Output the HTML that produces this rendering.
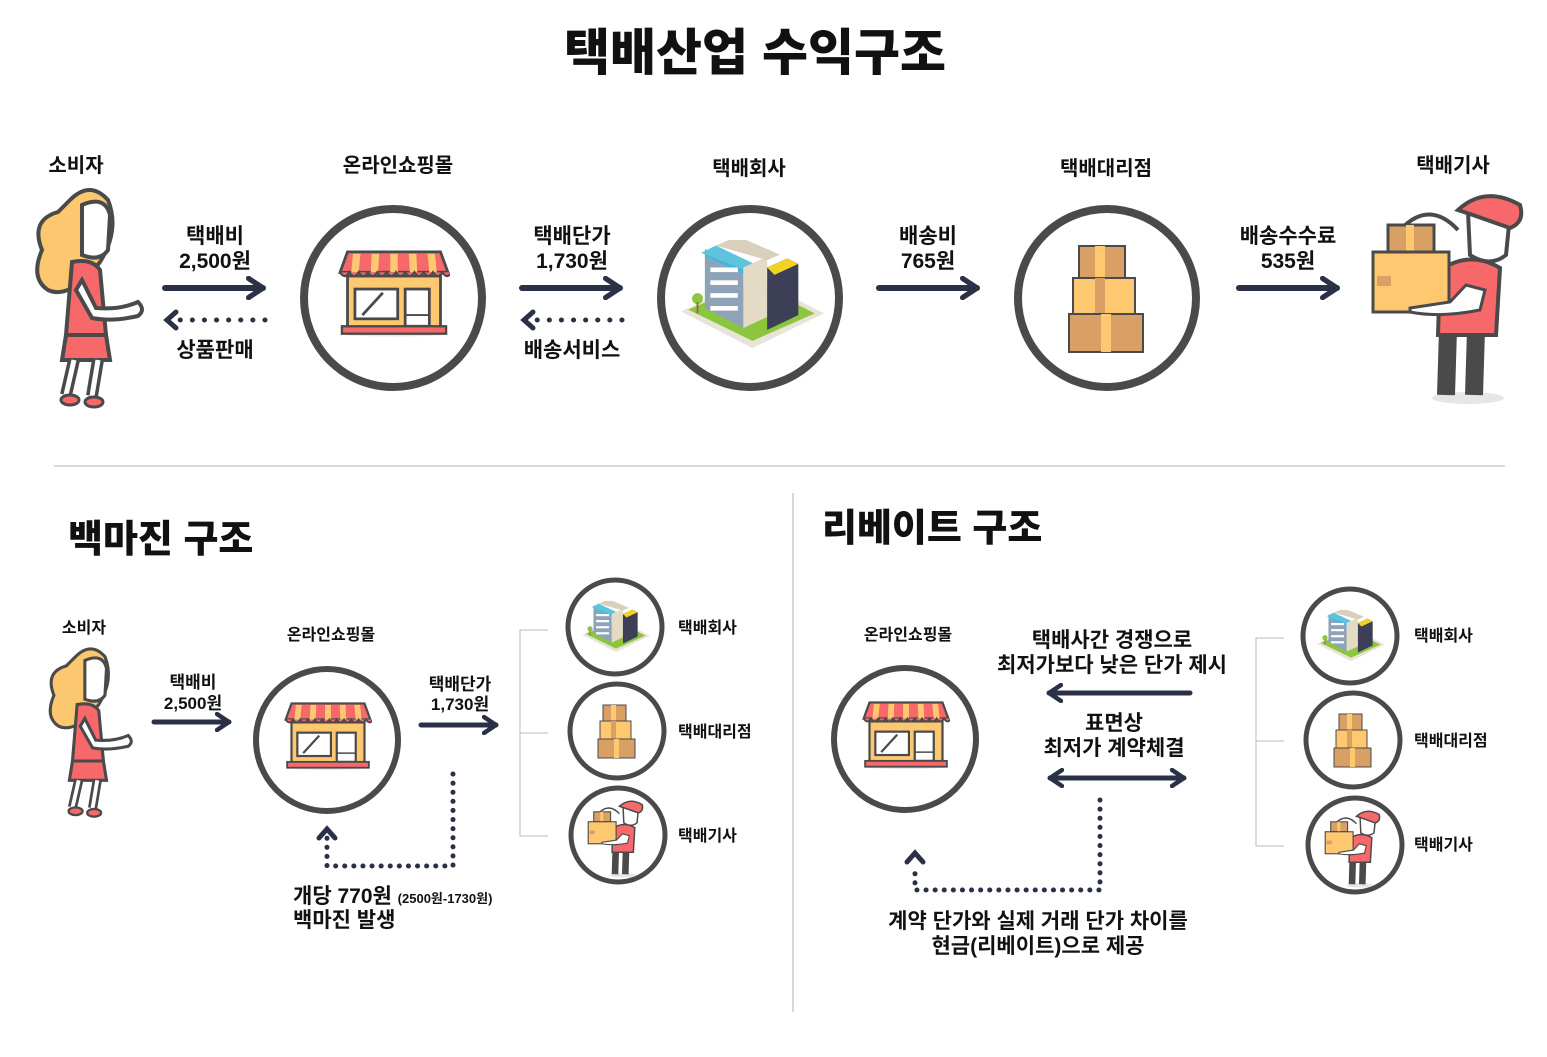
<!DOCTYPE html>
<html><head><meta charset="utf-8"><style>
body{margin:0;background:#fff}
svg{display:block}
text{font-family:"Liberation Sans","Noto Sans CJK KR","NanumGothic",sans-serif;fill:#111;font-weight:bold;text-anchor:middle}
</style></head><body>
<svg width="1547" height="1057" viewBox="0 0 1547 1057" xmlns="http://www.w3.org/2000/svg">
<defs>
<marker id="ah" viewBox="0 0 10 10" refX="7" refY="5" markerWidth="4" markerHeight="4" orient="auto-start-reverse"><path d="M1 1 L7 5 L1 9" fill="none" stroke="#2a3147" stroke-width="2.2" stroke-linecap="round" stroke-linejoin="round"/></marker>
<symbol id="store" viewBox="0 0 120 100">
<ellipse cx="60" cy="90" rx="58" ry="3" fill="#e6e6e6"/>
<rect x="10" y="28" width="100" height="56" fill="#fdc870" stroke="#4a4a4a" stroke-width="3"/>
<rect x="18" y="42" width="46" height="32" fill="#fff" stroke="#4a4a4a" stroke-width="3"/>
<line x1="26" y1="70" x2="48" y2="46" stroke="#4a4a4a" stroke-width="3"/>
<rect x="72" y="42" width="26" height="40" fill="#fff" stroke="#4a4a4a" stroke-width="3"/>
<line x1="72" y1="70" x2="98" y2="70" stroke="#4a4a4a" stroke-width="2"/>
<path d="M2 24 L10 2 H110 L118 24 Z" fill="#f7686a" stroke="#4a4a4a" stroke-width="3"/>
<g fill="#fdc870"><path d="M16 4 H24 L22 24 H14Z"/><path d="M36 4 H44 L43 24 H35Z"/><path d="M56 4 H64 V24 H56Z"/><path d="M76 4 H84 L85 24 H77Z"/><path d="M96 4 H104 L106 24 H98Z"/></g>
<path d="M2 24 q5 8 10 0 q5 8 10 0 q5 8 10 0 q5 8 10 0 q5 8 10 0 q5 8 10 0 q5 8 10 0 q5 8 10 0 q5 8 10 0 q5 8 10 0 q5 8 10 0 q5 8 10 0" fill="#f7686a" stroke="#4a4a4a" stroke-width="2.5"/>
<rect x="4" y="82" width="112" height="8" fill="#f7686a" stroke="#4a4a4a" stroke-width="2.5"/>
</symbol>
<symbol id="bld" viewBox="0 0 160 120">
<path d="M2 78 L80 118 L158 80 L80 40 Z" fill="#e9e4d8"/>
<path d="M10 76 L80 110 L148 80 L80 46 Z" fill="#8cc63f"/>
<path d="M28 18 L70 38 L70 96 L28 74 Z" fill="#8fa3b8"/>
<path d="M28 10 L70 30 L70 38 L28 18Z" fill="#4bb4d6"/>
<path d="M24 14 L40 6 L82 26 L70 32Z" fill="#5ec3df"/>
<path d="M70 30 L96 18 L96 84 L70 96Z" fill="#e3dbc6"/>
<path d="M40 6 L64 -4 L110 16 L96 22Z" fill="#d8d0bb"/>
<path d="M96 30 L118 20 L130 26 L130 82 L96 98Z" fill="#3c3f55"/>
<path d="M96 30 L118 20 L130 26 L104 38Z" fill="#f2d224"/>
<g fill="#fff"><rect x="34" y="30" width="30" height="5"/><rect x="34" y="44" width="30" height="5"/><rect x="34" y="58" width="30" height="5"/><rect x="34" y="72" width="30" height="5"/></g>
<circle cx="20" cy="64" r="6" fill="#8cc63f"/><line x1="20" y1="68" x2="20" y2="80" stroke="#8a6d3b" stroke-width="2"/>
</symbol>
<symbol id="boxes" viewBox="0 0 80 110">
<rect x="12" y="2" width="46" height="32" fill="#d9a066" stroke="#4a4a4a" stroke-width="2"/><rect x="28" y="2" width="10" height="32" fill="#fdc870"/>
<rect x="6" y="34" width="62" height="36" fill="#fdc870" stroke="#4a4a4a" stroke-width="2"/><rect x="28" y="34" width="10" height="36" fill="#d9a066"/>
<rect x="2" y="70" width="74" height="38" fill="#d9a066" stroke="#4a4a4a" stroke-width="2"/><rect x="34" y="70" width="10" height="38" fill="#fdc870"/>
</symbol>
<symbol id="woman" viewBox="28 185 120 225">
<path d="M70 200 Q90 180 108 200 Q120 230 100 262 Q70 300 48 290 Q30 278 42 250 Q30 220 58 212Z" fill="#fcc86f" stroke="#4a4a4a" stroke-width="4"/>
<path d="M82 205 Q105 195 110 215 L108 250 Q100 262 82 255 Z" fill="#fff" stroke="#4a4a4a" stroke-width="4"/>
<path d="M72 262 Q92 258 100 270 L106 335 H66 Z" fill="#f7686a" stroke="#4a4a4a" stroke-width="4"/>
<path d="M66 335 H106 L110 360 H62Z" fill="#f7686a" stroke="#4a4a4a" stroke-width="4"/>
<path d="M82 280 L96 308 Q120 310 138 302 Q146 310 138 316 Q112 322 92 318 L76 290Z" fill="#fff" stroke="#4a4a4a" stroke-width="4"/>
<path d="M74 360 L66 395 M98 360 L92 396" stroke="#4a4a4a" stroke-width="12"/>
<path d="M74 360 L66 395 M98 360 L92 396" stroke="#fff" stroke-width="5"/>
<ellipse cx="70" cy="400" rx="9" ry="5" fill="#f7686a" stroke="#4a4a4a" stroke-width="3"/><ellipse cx="94" cy="402" rx="9" ry="5" fill="#f7686a" stroke="#4a4a4a" stroke-width="3"/>
</symbol>
<symbol id="courier" viewBox="1365 190 162 218">
<ellipse cx="1468" cy="398" rx="36" ry="6" fill="#e6e6e6"/>
<path d="M1448 330 L1446 395 M1476 330 L1474 395" stroke="#4a4a4a" stroke-width="18"/>
<path d="M1440 270 Q1470 250 1500 268 L1496 335 H1438Z" fill="#f7686a" stroke="#4a4a4a" stroke-width="4"/>
<path d="M1468 212 Q1492 200 1510 215 L1506 255 Q1490 268 1470 255Z" fill="#fff" stroke="#4a4a4a" stroke-width="4"/>
<path d="M1458 210 Q1485 185 1520 205 Q1525 222 1510 228 L1470 214Z" fill="#f7686a" stroke="#4a4a4a" stroke-width="4"/>
<path d="M1402 228 Q1430 200 1458 230" fill="none" stroke="#4a4a4a" stroke-width="4"/>
<rect x="1388" y="225" width="46" height="27" fill="#d9a066" stroke="#4a4a4a" stroke-width="3"/><rect x="1406" y="225" width="8" height="27" fill="#fdc870"/>
<rect x="1373" y="252" width="76" height="60" fill="#fdc870" stroke="#4a4a4a" stroke-width="3"/>
<rect x="1377" y="276" width="14" height="10" fill="#d9a066"/>
<path d="M1410 312 Q1440 318 1480 310 L1485 290 L1466 285 L1450 302 L1410 308Z" fill="#fff" stroke="#4a4a4a" stroke-width="3"/>
</symbol>
</defs>

<text x="755" y="70" font-size="50" style="font-weight:900">택배산업 수익구조</text>

<g font-size="20">
<text x="76" y="172">소비자</text><text x="398" y="172">온라인쇼핑몰</text><text x="749" y="175">택배회사</text><text x="1106" y="175">택배대리점</text><text x="1453" y="172">택배기사</text>
</g>
<use href="#woman" x="28" y="185" width="120" height="225"/>
<circle cx="393" cy="298" r="89" fill="none" stroke="#4a4a4a" stroke-width="8"/>
<use href="#store" x="338" y="250" width="112" height="93"/>
<circle cx="750" cy="298" r="89" fill="none" stroke="#4a4a4a" stroke-width="8"/>
<use href="#bld" x="675" y="240" width="155" height="110"/>
<circle cx="1107" cy="298" r="89" fill="none" stroke="#4a4a4a" stroke-width="8"/>
<use href="#boxes" x="1067" y="244" width="80" height="110"/>
<use href="#courier" x="1365" y="190" width="162" height="218"/>

<g stroke="#2a3147" stroke-width="6" stroke-linecap="round" fill="none">
<line x1="165" y1="288" x2="263" y2="288" marker-end="url(#ah)"/>
<line x1="522" y1="288" x2="620" y2="288" marker-end="url(#ah)"/>
<line x1="879" y1="288" x2="977" y2="288" marker-end="url(#ah)"/>
<line x1="1239" y1="288" x2="1337" y2="288" marker-end="url(#ah)"/>
<line x1="265" y1="320" x2="172" y2="320" stroke-dasharray="0.1 12" stroke-width="5"/>
<line x1="622" y1="320" x2="529" y2="320" stroke-dasharray="0.1 12" stroke-width="5"/>
<path d="M176 312 L167 320 L176 328" stroke-width="5"/><path d="M533 312 L524 320 L533 328" stroke-width="5"/>
</g>
<g font-size="21">
<text x="215" y="243">택배비</text><text x="215" y="268">2,500원</text><text x="215" y="357">상품판매</text>
<text x="572" y="243">택배단가</text><text x="572" y="268">1,730원</text><text x="572" y="357">배송서비스</text>
<text x="928" y="243">배송비</text><text x="928" y="268">765원</text>
<text x="1288" y="243">배송수수료</text><text x="1288" y="268">535원</text>
</g>

<line x1="54" y1="466" x2="1505" y2="466" stroke="#ccc" stroke-width="1.5"/>
<line x1="793" y1="493" x2="793" y2="1012" stroke="#ccc" stroke-width="1.5"/>

<text x="68" y="552" font-size="38" style="text-anchor:start;font-weight:900">백마진 구조</text>
<text x="822" y="541" font-size="38" style="text-anchor:start;font-weight:900">리베이트 구조</text>

<!-- left bottom -->
<g font-size="16"><text x="84" y="633">소비자</text><text x="331" y="640">온라인쇼핑몰</text>
<text x="678" y="633" style="text-anchor:start">택배회사</text><text x="678" y="737" style="text-anchor:start">택배대리점</text><text x="678" y="841" style="text-anchor:start">택배기사</text>
<text x="908" y="640">온라인쇼핑몰</text>
<text x="1414" y="641" style="text-anchor:start">택배회사</text><text x="1414" y="746" style="text-anchor:start">택배대리점</text><text x="1414" y="850" style="text-anchor:start">택배기사</text>
</g>
<g font-size="17"><text x="193" y="688">택배비</text><text x="193" y="709">2,500원</text><text x="460" y="690">택배단가</text><text x="460" y="710">1,730원</text></g>
<use href="#woman" x="40" y="645" width="99" height="174"/>
<circle cx="327" cy="740" r="71" fill="none" stroke="#4a4a4a" stroke-width="6"/>
<use href="#store" x="284" y="702" width="88" height="73"/>
<g stroke="#2a3147" stroke-width="5" stroke-linecap="round" fill="none">
<line x1="154" y1="722" x2="229" y2="722" marker-end="url(#ah)"/>
<line x1="421" y1="725" x2="496" y2="725" marker-end="url(#ah)"/>
<path d="M453 774 V866 H327 V836" stroke-dasharray="0.1 9"/>
<path d="M319 838 L327 829 L335 838"/>
<line x1="1190" y1="693" x2="1049" y2="693" marker-end="url(#ah)"/>
<line x1="1050" y1="778" x2="1184" y2="778" marker-start="url(#ah)" marker-end="url(#ah)"/>
<path d="M1100 800 V890 H915 V866" stroke-dasharray="0.1 9"/>
<path d="M907 862 L915 853 L923 862"/>
</g>
<g stroke="#bbb" stroke-width="1" fill="none">
<path d="M548 630 H520 V836 H548 M520 733 H548"/>
<path d="M1284 638 H1256 V846 H1284 M1256 741 H1284"/>
</g>
<g fill="#fff" stroke="#4a4a4a" stroke-width="5">
<circle cx="615" cy="627" r="47"/><circle cx="617" cy="731" r="47"/><circle cx="618" cy="835" r="47"/>
<circle cx="1350" cy="636" r="47"/><circle cx="1353" cy="740" r="47"/><circle cx="1355" cy="845" r="47"/>
</g>
<use href="#bld" x="580" y="601" width="72" height="52"/><use href="#boxes" x="597" y="704" width="40" height="55"/><use href="#courier" x="585" y="799" width="60" height="80"/>
<use href="#bld" x="1315" y="610" width="72" height="52"/><use href="#boxes" x="1333" y="713" width="40" height="55"/><use href="#courier" x="1322" y="809" width="60" height="80"/>
<circle cx="905" cy="739" r="71" fill="none" stroke="#4a4a4a" stroke-width="6"/>
<use href="#store" x="862" y="701" width="88" height="73"/>

<text x="293" y="903" font-size="21" style="text-anchor:start">개당 770원 <tspan font-size="13">(2500원-1730원)</tspan></text>
<text x="293" y="927" font-size="21" style="text-anchor:start">백마진 발생</text>
<g font-size="21">
<text x="1112" y="647">택배사간 경쟁으로</text><text x="1112" y="672">최저가보다 낮은 단가 제시</text>
<text x="1114" y="730">표면상</text><text x="1114" y="755">최저가 계약체결</text>
<text x="1038" y="928">계약 단가와 실제 거래 단가 차이를</text><text x="1038" y="953">현금(리베이트)으로 제공</text>
</g>
</svg>
</body></html>
